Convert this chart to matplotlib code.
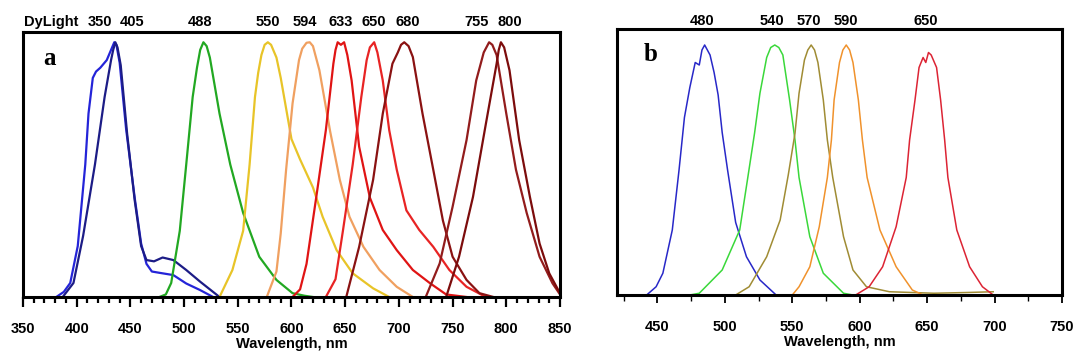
import matplotlib
matplotlib.use("Agg")
import matplotlib.pyplot as plt
from matplotlib.ticker import MultipleLocator
import matplotlib.transforms as mtransforms

plt.rcParams['font.family'] = ['Liberation Sans', 'DejaVu Sans']

# ---- panel a: DyLight emission spectra (wavelength nm, normalised intensity)
wl_350 = [381, 388, 394, 401, 408, 411, 415, 418, 422, 428, 432, 435, 437, 440, 446, 454, 460, 465, 470, 477, 490, 502, 515, 527]
i_350 = [0, 0.02, 0.055, 0.2, 0.52, 0.72, 0.86, 0.885, 0.9, 0.93, 0.97, 1.0, 0.99, 0.92, 0.66, 0.39, 0.21, 0.13, 0.1, 0.095, 0.086, 0.053, 0.027, 0]
wl_405 = [387, 397, 406, 417, 426, 432, 434, 436, 438, 441, 447, 454, 460, 465, 472, 480, 490, 502, 515, 527, 533]
i_405 = [0, 0.055, 0.24, 0.52, 0.785, 0.93, 0.97, 1.0, 0.98, 0.91, 0.64, 0.38, 0.2, 0.145, 0.14, 0.155, 0.145, 0.106, 0.06, 0.02, 0]
wl_488 = [477, 483, 488, 496, 502, 508, 512, 515, 518, 521, 524, 533, 543, 555, 570, 586, 601, 612, 620]
i_488 = [0, 0.01, 0.055, 0.26, 0.52, 0.785, 0.9, 0.97, 1.0, 0.985, 0.94, 0.72, 0.52, 0.33, 0.158, 0.067, 0.015, 0.005, 0]
wl_550 = [533, 545, 555, 561, 566, 569, 572, 575, 578, 581, 586, 590, 595, 600, 608, 620, 629, 642, 657, 676, 691]
i_550 = [0, 0.106, 0.26, 0.52, 0.785, 0.88, 0.95, 0.99, 1.0, 0.99, 0.94, 0.86, 0.74, 0.62, 0.54, 0.43, 0.315, 0.184, 0.093, 0.034, 0]
wl_594 = [577, 586, 590, 595, 601, 607, 610, 614, 617, 620, 626, 636, 645, 654, 667, 682, 698, 713]
i_594 = [0, 0.1, 0.25, 0.5, 0.76, 0.93, 0.975, 0.998, 1.0, 0.985, 0.89, 0.65, 0.46, 0.315, 0.197, 0.106, 0.04, 0]
wl_633 = [601, 608, 614, 623, 632, 639, 641, 643, 646, 649, 652, 656, 663, 673, 685, 698, 713, 729, 744, 763]
i_633 = [0, 0.03, 0.13, 0.39, 0.655, 0.916, 0.97, 1.0, 0.99, 1.0, 0.95, 0.85, 0.59, 0.39, 0.263, 0.184, 0.106, 0.054, 0.01, 0]
wl_650 = [632, 641, 648, 657, 665, 670, 673, 677, 680, 685, 691, 698, 707, 719, 732, 747, 763, 781]
i_650 = [0, 0.07, 0.263, 0.52, 0.785, 0.93, 0.98, 1.0, 0.96, 0.85, 0.655, 0.5, 0.34, 0.263, 0.197, 0.106, 0.04, 0]
wl_680 = [651, 663, 676, 685, 694, 699, 702, 705, 709, 713, 722, 732, 741, 750, 763, 775, 788]
i_680 = [0, 0.197, 0.46, 0.72, 0.916, 0.96, 0.99, 1.0, 0.985, 0.942, 0.72, 0.5, 0.3, 0.158, 0.067, 0.015, 0]
wl_755 = [725, 738, 750, 763, 772, 779, 784, 787, 791, 800, 809, 819, 831, 843, 850]
i_755 = [0, 0.132, 0.354, 0.616, 0.85, 0.96, 1.0, 0.99, 0.95, 0.72, 0.5, 0.33, 0.158, 0.054, 0.01]
wl_800 = [744, 756, 769, 781, 791, 793, 795, 798, 803, 812, 822, 831, 840, 850]
i_800 = [0, 0.158, 0.393, 0.68, 0.916, 0.97, 1.0, 0.98, 0.89, 0.616, 0.393, 0.21, 0.093, 0.015]

a_series = [(wl_350, i_350, '#2424d8'), (wl_405, i_405, '#1c1c86'),
            (wl_488, i_488, '#22a822'), (wl_550, i_550, '#e8c428'),
            (wl_594, i_594, '#f0a060'), (wl_633, i_633, '#e01414'),
            (wl_650, i_650, '#e82424'), (wl_680, i_680, '#8a1212'),
            (wl_755, i_755, '#921c1c'), (wl_800, i_800, '#7c0c0c')]

a_top_labels = ['350', '405', '488', '550', '594', '633', '650', '680', '755', '800']
a_top_pos = [422, 452, 515, 578, 612, 646, 677, 708, 772, 803]
a_ticks = [350, 400, 450, 500, 550, 600, 650, 700, 750, 800, 850]

# ---- panel b
wl_b480 = [442, 449, 454, 461, 466, 470, 474, 478, 481, 483, 485, 489, 492, 495, 498, 502, 508, 516, 526, 538]
i_b480 = [0, 0.033, 0.087, 0.26, 0.5, 0.71, 0.83, 0.93, 0.92, 0.98, 1.0, 0.96, 0.89, 0.8, 0.65, 0.5, 0.29, 0.153, 0.06, 0]
wl_b540 = [474, 481, 498, 511, 517, 522, 526, 531, 534, 537, 540, 543, 548, 552, 555, 563, 573, 588, 595]
i_b540 = [0, 0.007, 0.1, 0.26, 0.47, 0.647, 0.807, 0.95, 0.99, 1.0, 0.99, 0.96, 0.78, 0.62, 0.47, 0.233, 0.087, 0.007, 0]
wl_b570 = [508, 518, 531, 541, 547, 552, 555, 559, 561.5, 564, 566.5, 569, 573, 576, 580, 588, 595, 605, 622, 655, 680, 699]
i_b570 = [0, 0.033, 0.153, 0.3, 0.48, 0.647, 0.807, 0.94, 0.98, 1.0, 0.98, 0.93, 0.78, 0.62, 0.47, 0.233, 0.1, 0.033, 0.013, 0.007, 0.01, 0.013]
wl_b590 = [550, 555, 563, 570, 576, 579, 581, 585, 587.5, 590, 592.5, 595, 599, 602, 605.5, 615, 627, 639, 647]
i_b590 = [0, 0.033, 0.113, 0.273, 0.47, 0.62, 0.78, 0.93, 0.98, 1.0, 0.98, 0.93, 0.78, 0.62, 0.47, 0.26, 0.113, 0.02, 0]
wl_b650 = [597, 607, 617, 627, 634.5, 637, 641, 644, 647, 649, 651, 653, 657, 660, 663, 665.4, 672, 681.5, 691, 699]
i_b650 = [0, 0.033, 0.113, 0.273, 0.47, 0.62, 0.78, 0.91, 0.95, 0.93, 0.97, 0.96, 0.91, 0.78, 0.62, 0.47, 0.26, 0.113, 0.033, 0]

b_series = [(wl_b480, i_b480, '#2828c8'), (wl_b540, i_b540, '#3ad83a'),
            (wl_b570, i_b570, '#a08c34'), (wl_b590, i_b590, '#f0922c'),
            (wl_b650, i_b650, '#dc2434')]
b_top_labels = ['480', '540', '570', '590', '650']
b_top_pos = [483, 535, 562, 590, 649]
b_ticks = [450, 500, 550, 600, 650, 700, 750]

fig = plt.figure(figsize=(10.74, 3.58), dpi=100)
ax_a = fig.add_axes([0.0214, 0.1704, 0.5, 0.740])
ax_b = fig.add_axes([0.5745, 0.176, 0.4143, 0.743])

# panel a
for wl, inten, c in a_series:
    ax_a.plot(wl, inten, color=c, lw=1.6, solid_joinstyle='round')
ax_a.set_xlim(350, 850)
ax_a.set_ylim(0, 1.04)
ax_a.set_xticks(a_ticks)
ax_a.xaxis.set_minor_locator(MultipleLocator(10))
ax_a.tick_params(axis='x', which='major', length=7, width=1.6, pad=11,
                 labelsize=10.5)
ax_a.tick_params(axis='x', which='minor', length=4, width=1.6)
ax_a.set_yticks([])
for s in ax_a.spines.values():
    s.set_linewidth(2.2)
ax_a.set_xlabel('Wavelength, nm', fontsize=10.5, fontweight='bold', labelpad=1)
for lab in ax_a.get_xticklabels():
    lab.set_fontweight('bold')
trans_a = mtransforms.blended_transform_factory(ax_a.transData, ax_a.transAxes)
ax_a.text(350.5, 1.038, 'DyLight', transform=trans_a, ha='left', va='center',
          fontsize=10.5, fontweight='bold', clip_on=False)
for lab, x in zip(a_top_labels, a_top_pos):
    ax_a.text(x, 1.038, lab, transform=trans_a, ha='center', va='center',
              fontsize=10.5, fontweight='bold', clip_on=False)
ax_a.text(0.05, 0.90, 'a', transform=ax_a.transAxes, fontsize=18,
          fontweight='bold', family='Liberation Serif', ha='center', va='center')

# panel b
for wl, inten, c in b_series:
    ax_b.plot(wl, inten, color=c, lw=1.1, solid_joinstyle='round')
ax_b.set_xlim(420, 750)
ax_b.set_ylim(0, 1.064)
ax_b.set_xticks(b_ticks)
ax_b.xaxis.set_minor_locator(MultipleLocator(25))
ax_b.tick_params(axis='x', which='major', length=6, width=1.3, pad=12,
                 labelsize=10.5)
ax_b.tick_params(axis='x', which='minor', length=4, width=1.0)
ax_b.set_yticks([])
for s in ax_b.spines.values():
    s.set_linewidth(2.2)
ax_b.set_xlabel('Wavelength, nm', fontsize=10.5, fontweight='bold', labelpad=1)
for lab in ax_b.get_xticklabels():
    lab.set_fontweight('bold')
trans_b = mtransforms.blended_transform_factory(ax_b.transData, ax_b.transAxes)
for lab, x in zip(b_top_labels, b_top_pos):
    ax_b.text(x, 1.03, lab, transform=trans_b, ha='center', va='center',
              fontsize=10.5, fontweight='bold', clip_on=False)
ax_b.text(0.075, 0.905, 'b', transform=ax_b.transAxes, fontsize=18,
          fontweight='bold', family='Liberation Serif', ha='center', va='center')

fig.savefig('out.png', dpi=100)
